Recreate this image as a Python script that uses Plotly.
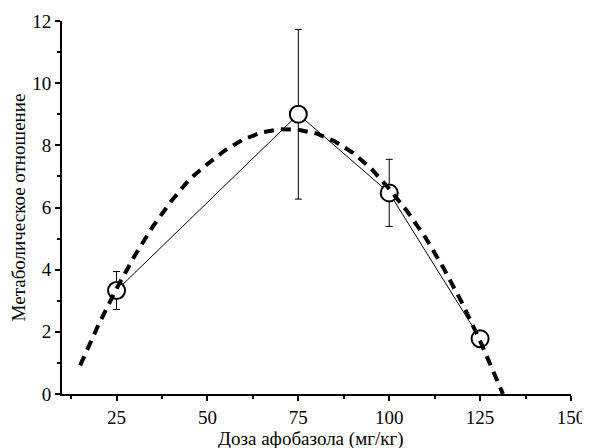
import plotly.graph_objects as go

# Measured data
dose = [25, 75, 100, 125]
ratio = [3.33, 9.0, 6.47, 1.78]
err = [0.61, 2.73, 1.08, 0.0]

# Dashed trend curve
fit_x = [15, 20, 25, 30, 35, 40, 45, 50, 55, 60, 65, 70, 75, 80, 85, 90,
         95, 100, 105, 110, 115, 120, 125, 130, 131.3]
fit_y = [0.92, 2.22, 3.39, 4.45, 5.39, 6.20, 6.90, 7.40, 7.85, 8.20, 8.42,
         8.52, 8.50, 8.38, 8.13, 7.76, 7.26, 6.60, 5.87, 5.03, 4.04, 2.94,
         1.71, 0.37, 0.0]

x_ticks = [25, 50, 75, 100, 125, 150]
y_ticks = [0, 2, 4, 6, 8, 10, 12]

x_title = "Доза афобазола (мг/кг)"
y_title = "Метаболическое отношение"

FONT = "'Times New Roman', 'Liberation Serif', Tinos, 'DejaVu Serif', serif"

fig = go.Figure()
fig.add_trace(go.Scatter(
    x=dose, y=ratio, mode="lines+markers",
    line=dict(color="black", width=1),
    marker=dict(symbol="circle", size=17, color="white",
                line=dict(color="black", width=2)),
    error_y=dict(type="data", array=err, visible=True,
                 color="black", thickness=1, width=3.5),
    showlegend=False, cliponaxis=False,
))
fig.add_trace(go.Scatter(
    x=fit_x, y=fit_y, mode="lines",
    line=dict(color="black", width=4, dash="10px,7px"),
    showlegend=False, cliponaxis=False,
))

# the page body adds an 8px offset, so the figure is 582x440
fig.update_layout(
    template="none",
    width=582, height=440,
    margin=dict(l=54, r=19, t=13, b=54),
    paper_bgcolor="white", plot_bgcolor="white",
    font=dict(family=FONT, color="#000000", size=19),
    xaxis=dict(
        range=[10, 150], tickvals=x_ticks, ticktext=[str(v) for v in x_ticks],
        automargin=False,
        showgrid=False, zeroline=False,
        showline=True, linecolor="#000000", linewidth=2,
        ticks="outside", ticklen=5, tickwidth=2, tickcolor="#000000",
        minor=dict(tick0=12.5, dtick=25, ticks="outside", ticklen=3,
                   tickwidth=2, tickcolor="#000000", showgrid=False),
        tickfont=dict(family=FONT, size=19, color="#000000"),
    ),
    yaxis=dict(
        range=[0, 12], tickvals=y_ticks, ticktext=[str(v) for v in y_ticks],
        automargin=False,
        showgrid=False, zeroline=False,
        showline=True, linecolor="#000000", linewidth=2,
        ticks="outside", ticklen=5, tickwidth=2, tickcolor="#000000",
        minor=dict(tick0=1, dtick=2, ticks="outside", ticklen=3,
                   tickwidth=2, tickcolor="#000000", showgrid=False),
        tickfont=dict(family=FONT, size=19, color="#000000"),
        title=dict(text=y_title,
                   font=dict(family=FONT, size=19, color="#000000")),
    ),
    annotations=[dict(
        text=x_title, xref="paper", yref="paper", x=0.49, y=0,
        xanchor="center", yanchor="top", yshift=-32, showarrow=False,
        font=dict(family=FONT, size=19, color="#000000"),
    )],
)

fig.write_html("out.html")
